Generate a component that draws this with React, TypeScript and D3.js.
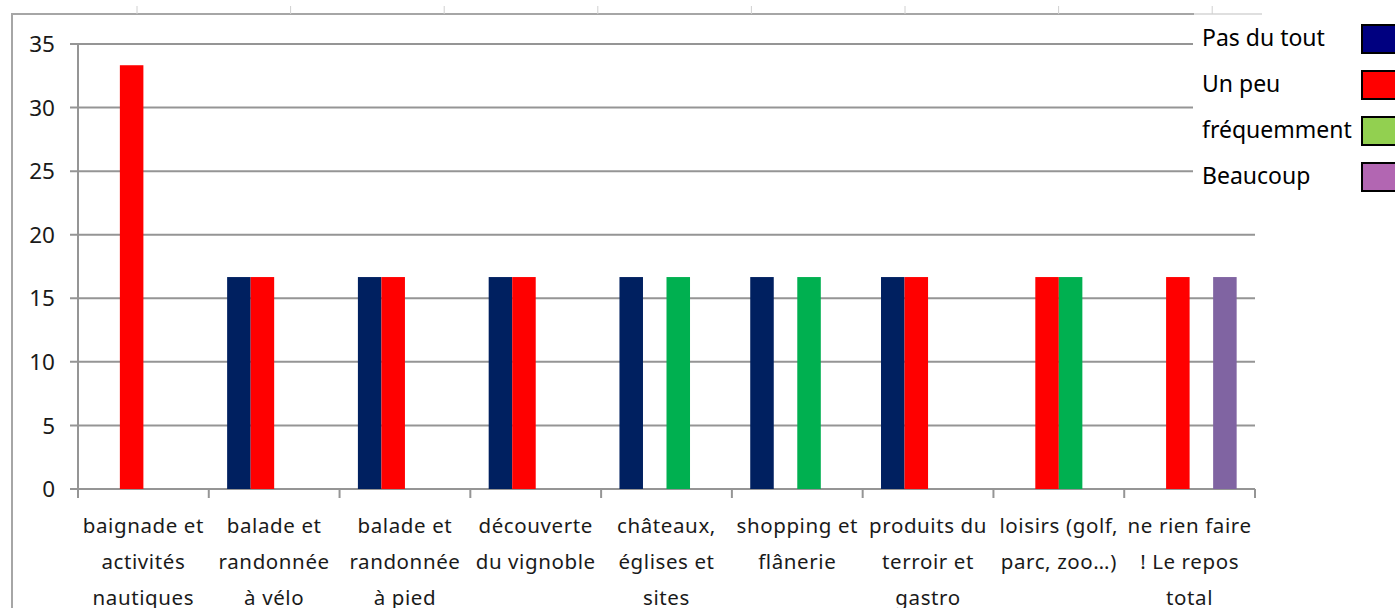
import * as React from 'react';
import { useEffect, useRef } from 'react';
import * as d3 from 'd3';

const WIDTH = 1395;
const HEIGHT = 608;

// category labels, already split in lines as in the original
const categories = [
  ['baignade et', 'activités', 'nautiques'],
  ['balade et', 'randonnée', 'à vélo'],
  ['balade et', 'randonnée', 'à pied'],
  ['découverte', 'du vignoble'],
  ['châteaux,', 'églises et', 'sites'],
  ['shopping et', 'flânerie'],
  ['produits du', 'terroir et', 'gastro'],
  ['loisirs (golf,', 'parc, zoo…)'],
  ['ne rien faire', '! Le repos', 'total'],
];

const seriesNames = ['Pas du tout', 'Un peu', 'fréquemment', 'Beaucoup'];

const pasDuTout = [0, 16.67, 16.67, 16.67, 16.67, 16.67, 16.67, 0, 0];
const unPeu = [33.33, 16.67, 16.67, 16.67, 0, 0, 16.67, 16.67, 16.67];
const frequemment = [0, 0, 0, 0, 16.67, 16.67, 0, 16.67, 0];
const beaucoup = [0, 0, 0, 0, 0, 0, 0, 0, 16.67];

const yTicks = [0, 5, 10, 15, 20, 25, 30, 35];

const barColors = ['#002060', '#FF0000', '#00B050', '#8064A2'];
const legendColors = ['#000080', '#FF0000', '#92D050', '#B266B2'];

const FONT = '"Noto Sans", "Open Sans", sans-serif';

export default function App() {
  const ref = useRef<SVGSVGElement>(null);

  useEffect(() => {
    const svg = d3.select(ref.current);
    svg.selectAll('*').remove();

    const values = [pasDuTout, unPeu, frequemment, beaucoup];

    const x = d3.scaleBand<number>()
      .domain(d3.range(categories.length))
      .range([78, 1255])
      .padding(0);

    const xs = d3.scaleBand<number>()
      .domain(d3.range(seriesNames.length))
      .range([0, x.bandwidth()])
      .paddingInner(0)
      .paddingOuter(0.78);

    const y = d3.scaleLinear().domain([0, 35]).range([489, 44]);

    // outer chart frame (cropped)
    svg.append('line')
      .attr('x1', 12).attr('x2', 12).attr('y1', 14).attr('y2', HEIGHT)
      .attr('stroke', '#a6a6a6').attr('stroke-width', 2);
    svg.append('line')
      .attr('x1', 11).attr('x2', 1194).attr('y1', 14).attr('y2', 14)
      .attr('stroke', '#a6a6a6').attr('stroke-width', 2);
    svg.append('line')
      .attr('x1', 1194).attr('x2', 1262).attr('y1', 14).attr('y2', 14)
      .attr('stroke', '#d4d4d4').attr('stroke-width', 1.5);
    // small ticks of the chart behind
    const topTicks = d3.range(8).map((i) => 137 + i * 153.6);
    svg.selectAll('.toptick')
      .data(topTicks)
      .enter().append('line')
      .attr('x1', (d) => d).attr('x2', (d) => d)
      .attr('y1', 6).attr('y2', 14)
      .attr('stroke', '#d0d0d0').attr('stroke-width', 1);

    // gridlines
    svg.selectAll('.grid')
      .data(yTicks)
      .enter().append('line')
      .attr('x1', 70).attr('x2', 1255)
      .attr('y1', (d) => y(d)).attr('y2', (d) => y(d))
      .attr('stroke', '#959595').attr('stroke-width', 2);

    // y axis
    svg.append('line')
      .attr('x1', 78).attr('x2', 78).attr('y1', y(35)).attr('y2', y(0))
      .attr('stroke', '#959595').attr('stroke-width', 2);

    svg.selectAll('.ylabel')
      .data(yTicks)
      .enter().append('text')
      .attr('x', 55)
      .attr('y', (d) => y(d))
      .attr('dy', '0.36em')
      .attr('text-anchor', 'end')
      .attr('font-family', FONT)
      .attr('font-size', 22.5)
      .attr('fill', '#1a1a1a')
      .text((d) => d);

    // x axis ticks
    const xTicks = d3.range(categories.length + 1).map((i) =>
      i < categories.length ? x(i)! : x(categories.length - 1)! + x.bandwidth());
    svg.selectAll('.xtick')
      .data(xTicks)
      .enter().append('line')
      .attr('x1', (d) => d).attr('x2', (d) => d)
      .attr('y1', y(0)).attr('y2', y(0) + 9)
      .attr('stroke', '#959595').attr('stroke-width', 2);

    // bars
    const g = svg.append('g');
    values.forEach((arr, s) => {
      g.selectAll('.bar' + s)
        .data(arr.map((v, i) => ({ v, i })).filter((d) => d.v > 0))
        .enter().append('rect')
        .attr('x', (d) => x(d.i)! + xs(s)!)
        .attr('width', xs.bandwidth())
        .attr('y', (d) => y(d.v))
        .attr('height', (d) => y(0) - y(d.v))
        .attr('fill', barColors[s]);
    });

    // category labels
    const lab = svg.selectAll('.xlabel')
      .data(categories)
      .enter().append('text')
      .attr('text-anchor', 'middle')
      .attr('font-family', FONT)
      .attr('font-size', 20.5)
      .attr('letter-spacing', 0.6)
      .attr('fill', '#1a1a1a');
    lab.each(function (lines, i) {
      const t = d3.select(this);
      lines.forEach((line, k) => {
        t.append('tspan')
          .attr('x', x(i)! + x.bandwidth() / 2)
          .attr('y', y(0) + 44 + k * 36)
          .text(line);
      });
    });

    // legend
    svg.append('rect')
      .attr('x', 1193).attr('y', 16).attr('width', WIDTH - 1193).attr('height', 214)
      .attr('fill', '#ffffff');
    const ly = d3.scaleLinear().domain([0, 3]).range([24, 162]);
    const leg = svg.selectAll('.legend')
      .data(seriesNames)
      .enter().append('g');
    leg.append('rect')
      .attr('x', 1362).attr('y', (_d, i) => ly(i) + 1)
      .attr('width', 40).attr('height', 28)
      .attr('fill', (_d, i) => legendColors[i])
      .attr('stroke', '#000').attr('stroke-width', 2);
    leg.append('text')
      .attr('x', 1202).attr('y', (_d, i) => ly(i) + 22)
      .attr('font-family', FONT)
      .attr('font-size', 23)
      .attr('fill', '#000')
      .text((d) => d);
  }, []);

  return (
    <svg
      ref={ref}
      width={WIDTH}
      height={HEIGHT}
      style={{ position: 'absolute', left: 0, top: 0, background: '#fff' }}
    />
  );
}
